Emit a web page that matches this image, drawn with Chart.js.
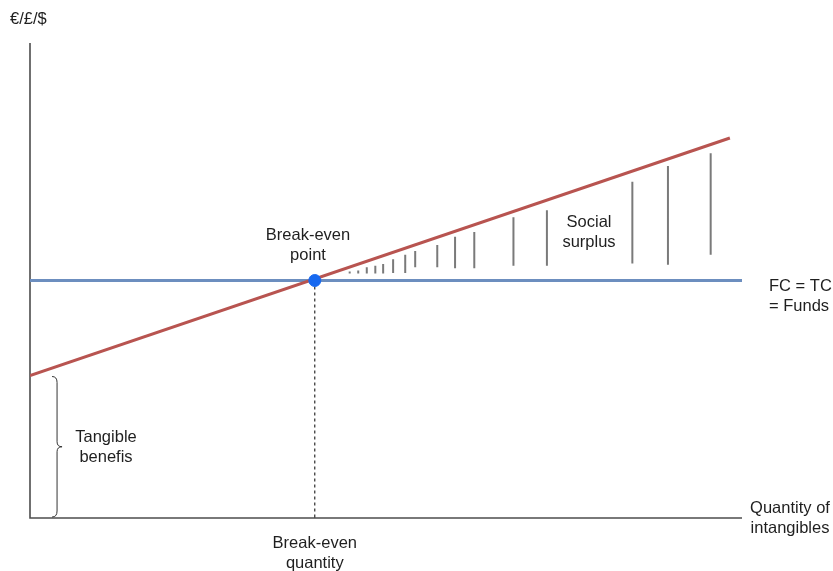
<!DOCTYPE html>
<html>
<head>
<meta charset="utf-8">
<script src="https://cdn.jsdelivr.net/npm/chart.js@4.4.1/dist/chart.umd.min.js"></script>
<style>
  html, body { margin: 0; padding: 0; background: #ffffff; }
  #wrap { width: 833px; height: 571px; }
</style>
</head>
<body>
<div id="wrap"><canvas id="c" width="833" height="571"></canvas></div>
<script>
// ---- Data (abstract units: quantity 0..100, money 0..100) ----
const quantityRange = [0, 100];
const moneyRange = [0, 100];

const fundsX = [0, 100];          // FC = TC = Funds (horizontal)
const fundsY = [50, 50];

const benefitX = [0, 98.3];       // rising line starting at tangible benefits
const benefitY = [30, 80];

const breakEvenX = 40;
const breakEvenY = 50;

const tangibleBenefits = 30;      // height of brace on y axis

// hand-drawn hatching in "social surplus" area
const hatchX      = [44.9, 46.1, 47.3, 48.5, 49.6, 51.0, 52.7, 54.1, 57.2, 59.7, 62.4, 67.9, 72.6, 84.6, 89.6, 95.6];
const hatchTop    = [51.9, 52.1, 52.8, 53.1, 53.5, 54.5, 55.4, 56.2, 57.5, 59.2, 60.2, 63.3, 64.8, 70.8, 74.1, 76.8];
const hatchBottom = [51.5, 51.5, 51.5, 51.5, 51.5, 51.6, 51.6, 52.8, 52.8, 52.6, 52.6, 53.1, 53.1, 53.6, 53.3, 55.4];

// ---- Build datasets ----
const hatchData = [];
hatchX.forEach((x, i) => {
  hatchData.push({x: x, y: hatchTop[i]});
  hatchData.push({x: x, y: hatchBottom[i]});
  hatchData.push({x: x, y: null});
});

const FONT = '"Liberation Sans", Arial, sans-serif';
const TEXT_COLOR = '#1f1f1f';

const annotationPlugin = {
  id: 'annot',
  beforeDatasetsDraw(chart) {
    const {ctx, chartArea: a} = chart;
    ctx.save();
    ctx.strokeStyle = '#4d4d4d';
    ctx.lineWidth = 1.6;
    ctx.beginPath();
    ctx.moveTo(a.left, a.top);
    ctx.lineTo(a.left, a.bottom);
    ctx.lineTo(a.right, a.bottom);
    ctx.stroke();
    ctx.restore();
  },
  afterDatasetsDraw(chart) {
    const {ctx, chartArea: a, scales} = chart;
    const xs = scales.x, ys = scales.y;
    ctx.save();
    // brace for tangible benefits
    const bx = xs.getPixelForValue(3.8);
    const yTop = ys.getPixelForValue(tangibleBenefits) + 1;
    const yBot = ys.getPixelForValue(0) - 1;
    const yMid = (yTop + yBot) / 2;
    const w = 5;
    ctx.strokeStyle = '#333';
    ctx.lineWidth = 1;
    ctx.beginPath();
    ctx.moveTo(bx - w, yTop);
    ctx.quadraticCurveTo(bx, yTop, bx, yTop + 6);
    ctx.lineTo(bx, yMid - 5);
    ctx.quadraticCurveTo(bx, yMid, bx + w, yMid);
    ctx.quadraticCurveTo(bx, yMid, bx, yMid + 5);
    ctx.lineTo(bx, yBot - 6);
    ctx.quadraticCurveTo(bx, yBot, bx - w, yBot);
    ctx.stroke();

    // texts
    ctx.fillStyle = TEXT_COLOR;
    ctx.font = '16.5px ' + FONT;
    ctx.textBaseline = 'middle';
    const lines = (arr, x, y0, align) => {
      ctx.textAlign = align;
      arr.forEach((t, i) => ctx.fillText(t, x, y0 + i * 20));
    };
    lines(['€/£/$'], 10, 19, 'left');
    lines(['Break-even', 'point'], 308, 235, 'center');
    lines(['Social', 'surplus'], 589, 222, 'center');
    lines(['FC = TC', '= Funds'], 769, 286, 'left');
    lines(['Tangible', 'benefis'], 106, 437, 'center');
    lines(['Break-even', 'quantity'], xs.getPixelForValue(breakEvenX), 543, 'center');
    lines(['Quantity of', 'intangibles'], 790, 508, 'center');
    ctx.restore();
  }
};

new Chart(document.getElementById('c'), {
  type: 'scatter',
  data: {
    datasets: [
      {
        label: 'Break-even point',
        data: [{x: breakEvenX, y: breakEvenY}],
        pointRadius: 6,
        pointBackgroundColor: '#1769f0',
        pointBorderColor: '#1769f0',
        showLine: false,
        order: 0
      },
      {
        label: 'Benefits',
        data: benefitX.map((x, i) => ({x: x, y: benefitY[i]})),
        showLine: true,
        borderColor: '#b85450',
        borderWidth: 3,
        pointRadius: 0,
        order: 1
      },
      {
        label: 'FC = TC = Funds',
        data: fundsX.map((x, i) => ({x: x, y: fundsY[i]})),
        showLine: true,
        borderColor: '#6c8ebf',
        borderWidth: 3,
        pointRadius: 0,
        order: 2
      },
      {
        label: 'Break-even quantity',
        data: [{x: breakEvenX, y: breakEvenY}, {x: breakEvenX, y: 0}],
        showLine: true,
        borderColor: '#000000',
        borderWidth: 1,
        borderDash: [3, 3],
        pointRadius: 0,
        order: 3
      },
      {
        label: 'Social surplus',
        data: hatchData,
        showLine: true,
        spanGaps: false,
        borderColor: '#7a7a7a',
        borderWidth: 2,
        pointRadius: 0,
        order: 4
      }
    ]
  },
  options: {
    responsive: false,
    devicePixelRatio: 1,
    animation: false,
    layout: { padding: { left: 30, top: 43, right: 91, bottom: 53 } },
    plugins: { legend: { display: false }, tooltip: { enabled: false } },
    scales: {
      x: { type: 'linear', min: quantityRange[0], max: quantityRange[1], display: false },
      y: { type: 'linear', min: moneyRange[0], max: moneyRange[1], display: false }
    }
  },
  plugins: [annotationPlugin]
});
</script>
</body>
</html>
